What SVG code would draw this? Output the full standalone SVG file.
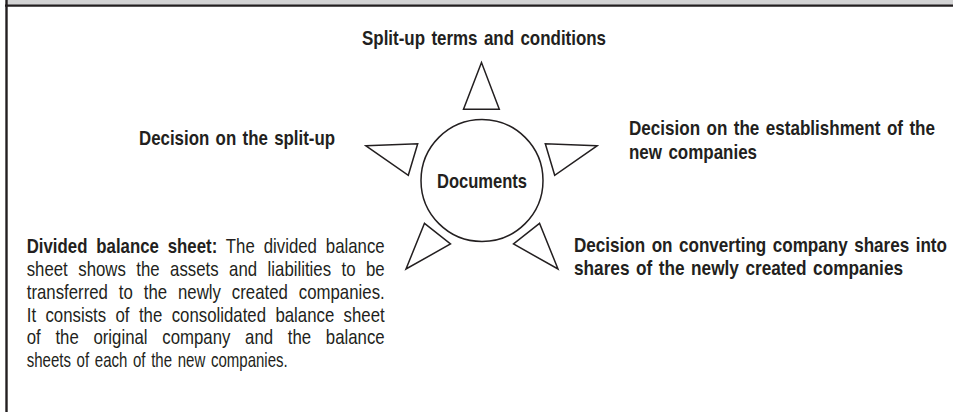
<svg xmlns="http://www.w3.org/2000/svg" width="953" height="412" viewBox="0 0 953 412">
  <style>
    .b { font-family: "Liberation Sans", Arial, sans-serif; font-weight: bold; font-size: 20px; fill: #231f20; word-spacing: 2px; }
    .r { font-family: "Liberation Sans", Arial, sans-serif; font-weight: normal; font-size: 20px; fill: #231f20; }
    .bb { font-weight: bold; }
    .shape { fill: #ffffff; stroke: #231f20; stroke-width: 1.5; stroke-linejoin: miter; }
  </style>
  <rect x="0" y="0" width="953" height="412" fill="#ffffff"/>
  <g id="frame">
    <rect x="7" y="0" width="946" height="5" fill="#d3d3d4"/>
    <line x1="5" y1="5.6" x2="953" y2="5.6" stroke="#231f20" stroke-width="2.4"/>
    <line x1="6.5" y1="0" x2="6.5" y2="412" stroke="#231f20" stroke-width="2.4"/>
  </g>
  <g id="connectors">
    <polygon class="shape" points="481.5,62.5 463.5,109.3 499.3,109.3"/>
    <polygon class="shape" points="366,145.8 417.7,143.7 408.3,175.3"/>
    <polygon class="shape" points="597,145.8 545.3,143.7 554.7,175.3"/>
    <polygon class="shape" points="424.5,223.3 450.5,244 406,269"/>
    <polygon class="shape" points="539.5,223.3 513.5,244 558,269"/>
  </g>
  <g id="documents">
    <circle class="shape" cx="482" cy="180.5" r="61"/>
    <text class="b" transform="translate(437,188) scale(0.85,1)" textLength="105.9" lengthAdjust="spacingAndGlyphs">Documents</text>
  </g>
  <g id="terms">
    <text class="b" transform="translate(362,45.2) scale(0.85,1)" textLength="287.1" lengthAdjust="spacingAndGlyphs">Split-up terms and conditions</text>
  </g>
  <g id="decision-split">
    <text class="b" transform="translate(139,144.7) scale(0.85,1)" textLength="230.6" lengthAdjust="spacingAndGlyphs">Decision on the split-up</text>
  </g>
  <g id="decision-establishment">
    <text class="b" transform="translate(629,134.7) scale(0.85,1)" textLength="360" lengthAdjust="spacingAndGlyphs">Decision on the establishment of the</text>
    <text class="b" transform="translate(629,158.7) scale(0.85,1)" textLength="150.6" lengthAdjust="spacingAndGlyphs">new companies</text>
  </g>
  <g id="decision-shares">
    <text class="b" transform="translate(574,251.7) scale(0.85,1)" textLength="438.8" lengthAdjust="spacingAndGlyphs">Decision on converting company shares into</text>
    <text class="b" transform="translate(574,274.7) scale(0.85,1)" textLength="387.1" lengthAdjust="spacingAndGlyphs">shares of the newly created companies</text>
  </g>
  <g id="balance-sheet">
    <text class="r" transform="translate(26.7,253.2) scale(0.84,1)" word-spacing="5" textLength="426.2" lengthAdjust="spacing"><tspan class="bb">Divided balance sheet:</tspan> The divided balance</text>
    <text class="r" transform="translate(26.7,276) scale(0.84,1)" word-spacing="6.9" textLength="426.2" lengthAdjust="spacing">sheet shows the assets and liabilities to be</text>
    <text class="r" transform="translate(26.7,298.7) scale(0.84,1)" word-spacing="7.4" textLength="426.2" lengthAdjust="spacing">transferred to the newly created companies.</text>
    <text class="r" transform="translate(26.7,321.5) scale(0.84,1)" word-spacing="5.6" textLength="426.2" lengthAdjust="spacing">It consists of the consolidated balance sheet</text>
    <text class="r" transform="translate(26.7,344.3) scale(0.84,1)" word-spacing="11.9" textLength="426.2" lengthAdjust="spacing">of the original company and the balance</text>
    <text class="r" transform="translate(26.7,367.1) scale(0.84,1)" word-spacing="2" textLength="310.7" lengthAdjust="spacingAndGlyphs">sheets of each of the new companies.</text>
  </g>
</svg>
